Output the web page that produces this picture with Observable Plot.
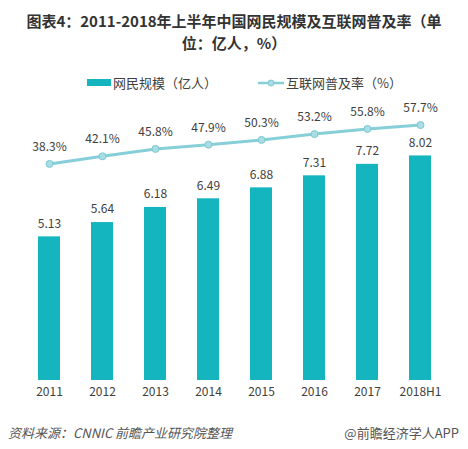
<!DOCTYPE html>
<html><head><meta charset="utf-8">
<script src="https://cdn.jsdelivr.net/npm/d3@7"></script>
<script src="https://cdn.jsdelivr.net/npm/@observablehq/plot@0.6"></script>
<style>
body{margin:0;background:#fff;font-family:"Noto Sans CJK SC","Noto Sans",sans-serif;}
#wrap{position:relative;width:468px;height:449px;overflow:hidden;}
#title{position:absolute;left:0;top:10px;width:468px;text-align:center;font-weight:bold;font-size:15px;line-height:22px;color:#333;}
#legend{position:absolute;top:74px;left:0;width:468px;height:18px;font-size:13px;color:#404040;}
#chart{position:absolute;left:0;top:95px;}
.foot{position:absolute;top:423px;font-size:13px;color:#555;}
</style></head>
<body><div id="wrap">
<div id="title">图表4：2011-2018年上半年中国网民规模及互联网普及率（单<br>位：亿人，%）</div>
<div id="legend">
  <span style="position:absolute;left:87px;top:5px;width:24px;height:7px;background:#14B5BE"></span>
  <span style="position:absolute;left:113px;top:-1px;">网民规模（亿人）</span>
  <svg style="position:absolute;left:256px;top:0px" width="30" height="18"><line x1="2" y1="9" x2="28" y2="9" stroke="#86CFD8" stroke-width="2.5"/><circle cx="15" cy="9" r="3" fill="#a9dde3" stroke="#7cc9d2"/></svg>
  <span style="position:absolute;left:286px;top:-1px;">互联网普及率（%）</span>
</div>
<div id="chart"></div>
<div class="foot" style="left:8px;font-style:italic;">资料来源：CNNIC 前瞻产业研究院整理</div>
<div class="foot" style="right:9px;">@前瞻经济学人APP</div>
</div>
<script>
const years = ["2011","2012","2013","2014","2015","2016","2017","2018H1"];
const users = [5.13,5.64,6.18,6.49,6.88,7.31,7.72,8.02];
const rates = [38.3,42.1,45.8,47.9,50.3,53.2,55.8,57.7];

const data = years.map((y,i)=>({year:y, users:users[i], rate:rates[i], rv: 5 + rates[i]/14}));

const chart = Plot.plot({
  width:468, height:320,
  marginTop:5, marginBottom:35, marginLeft:8, marginRight:8,
  style:{fontFamily:'"Noto Sans CJK SC","Noto Sans",sans-serif', fontSize:"12px", color:"#404040", background:"transparent"},
  x:{type:"band", domain:years, paddingInner:0.59, paddingOuter:0.5, label:null},
  y:{domain:[0,10], axis:null},
  marks:[
    Plot.barY(data,{x:"year", y:"users", fill:"#14B5BE"}),
    Plot.text(data,{x:"year", y:"users", text:d=>d.users.toFixed(2), dy:-13, fill:"#404040", fontSize:12}),
    Plot.line(data,{x:"year", y:"rv", stroke:"#86CFD8", strokeWidth:3}),
    Plot.dot(data,{x:"year", y:"rv", r:3.5, fill:"#a9dde3", stroke:"#7cc9d2", strokeWidth:1}),
    Plot.text(data,{x:"year", y:"rv", text:d=>d.rate.toFixed(1)+"%", dy:-17, fill:"#404040", fontSize:12}),
    Plot.axisX({tickSize:0, tickPadding:7, fontSize:12, fill:"#404040", label:null})
  ]
});
document.getElementById("chart").appendChild(chart);
</script>
</body></html>
